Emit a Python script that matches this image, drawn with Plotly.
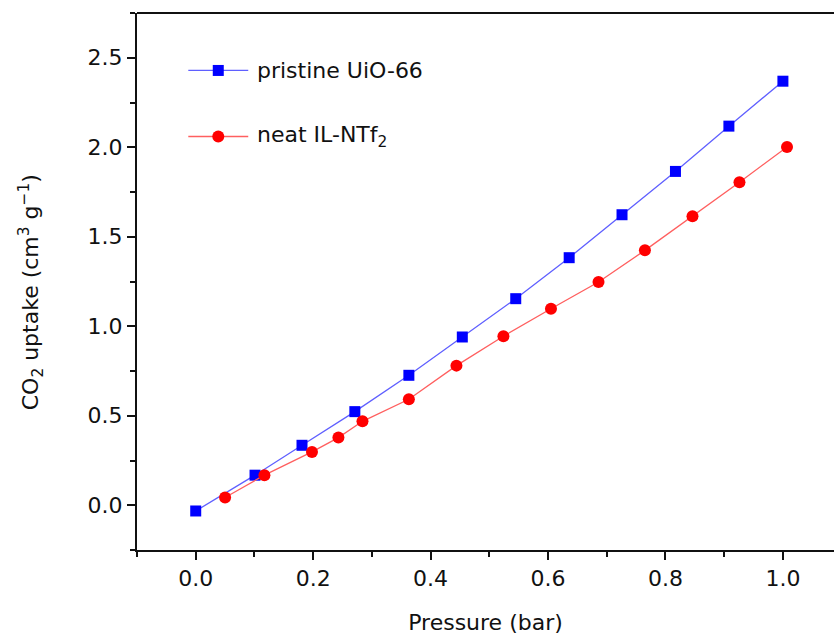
import plotly.graph_objects as go

# Data
uio_pressure = [0.0, 0.101, 0.181, 0.271, 0.363, 0.454, 0.545, 0.636, 0.726, 0.817, 0.908, 1.0]
uio_uptake = [-0.032, 0.168, 0.335, 0.523, 0.726, 0.940, 1.154, 1.383, 1.623, 1.865, 2.118, 2.369]

il_pressure = [0.050, 0.117, 0.198, 0.243, 0.284, 0.363, 0.444, 0.524, 0.605, 0.686, 0.765, 0.846, 0.926, 1.007]
il_uptake = [0.043, 0.168, 0.298, 0.378, 0.469, 0.592, 0.780, 0.944, 1.098, 1.247, 1.424, 1.615, 1.805, 2.001]

series_names = ["pristine UiO-66", "neat IL-NTf<sub>2</sub>"]
x_ticks = [0.0, 0.2, 0.4, 0.6, 0.8, 1.0]
y_ticks = [0.0, 0.5, 1.0, 1.5, 2.0, 2.5]
x_title = "Pressure (bar)"
y_title = "CO<sub>2</sub> uptake (cm<sup>3</sup> g<sup>−1</sup>)"

FONT = "'DejaVu Sans', Arial, sans-serif"
FS = 22
BLUE = "#0000ff"
RED = "#ff0000"
BLUE_LINE = "rgb(95,95,255)"
RED_LINE = "rgb(255,95,95)"

fig = go.Figure()
fig.add_trace(go.Scatter(
    x=uio_pressure, y=uio_uptake, mode="lines+markers", name=series_names[0],
    line=dict(color=BLUE_LINE, width=1.3),
    marker=dict(symbol="square", size=11, color=BLUE, line=dict(width=0)),
    showlegend=False,
))
fig.add_trace(go.Scatter(
    x=il_pressure, y=il_uptake, mode="lines+markers", name=series_names[1],
    line=dict(color=RED_LINE, width=1.3),
    marker=dict(symbol="circle", size=12, color=RED, line=dict(width=0)),
    showlegend=False,
))

# Manual legend (paper coordinates)
legend_rows = [
    (0.893, BLUE_LINE, BLUE, "rect", 11, series_names[0]),
    (0.770, RED_LINE, RED, "circle", 12, series_names[1]),
]
shapes = []
annotations = []
for y, lc, mc, kind, sz, label in legend_rows:
    shapes.append(dict(type="line", xref="paper", yref="paper", x0=0.0736, x1=0.1596, y0=y, y1=y,
                       line=dict(color=lc, width=1.3)))
    shapes.append(dict(type=kind, xref="paper", yref="paper", xsizemode="pixel", ysizemode="pixel",
                       xanchor=0.1166, yanchor=y, x0=-sz / 2, x1=sz / 2, y0=-sz / 2, y1=sz / 2,
                       fillcolor=mc, line=dict(width=0)))
    annotations.append(dict(xref="paper", yref="paper", x=0.170, y=y, xanchor="left", yanchor="middle",
                            text=label, showarrow=False, font=dict(family=FONT, size=FS, color="#111")))

# Y-axis title placed as in the reference
annotations.append(dict(xref="paper", yref="paper", x=-0.152, y=0.48, xanchor="center", yanchor="middle",
                        textangle=-90, text=y_title, showarrow=False,
                        font=dict(family=FONT, size=FS, color="#111")))

# Top frame line
shapes.append(dict(type="line", xref="paper", yref="paper", x0=0, x1=1, y0=1, y1=1,
                   line=dict(color="#111", width=2)))

fig.update_layout(
    width=834, height=638,
    margin=dict(l=137, r=0, t=13, b=88),
    paper_bgcolor="white", plot_bgcolor="white",
    font=dict(family=FONT, size=FS, color="#111"),
    shapes=shapes, annotations=annotations,
    showlegend=False,
)
fig.update_xaxes(
    range=[-0.1, 1.087], tickvals=x_ticks, tickformat=".1f",
    showgrid=False, zeroline=False, showline=True, linecolor="#111", linewidth=2,
    ticks="outside", ticklen=8, tickwidth=1.5, tickcolor="#111",
    minor=dict(dtick=0.1, tick0=0, ticks="outside", ticklen=5, tickwidth=1.5, tickcolor="#111"),
    title=dict(text=x_title, font=dict(size=FS), standoff=24),
    tickfont=dict(size=FS),
)
fig.update_yaxes(
    range=[-0.25, 2.75], tickvals=y_ticks, tickformat=".1f",
    showgrid=False, zeroline=False, showline=True, linecolor="#111", linewidth=2,
    ticks="outside", ticklen=8, tickwidth=1.5, tickcolor="#111",
    minor=dict(dtick=0.25, tick0=0, ticks="outside", ticklen=5, tickwidth=1.5, tickcolor="#111"),
    tickfont=dict(size=FS),
)

fig.write_html("out.html")
